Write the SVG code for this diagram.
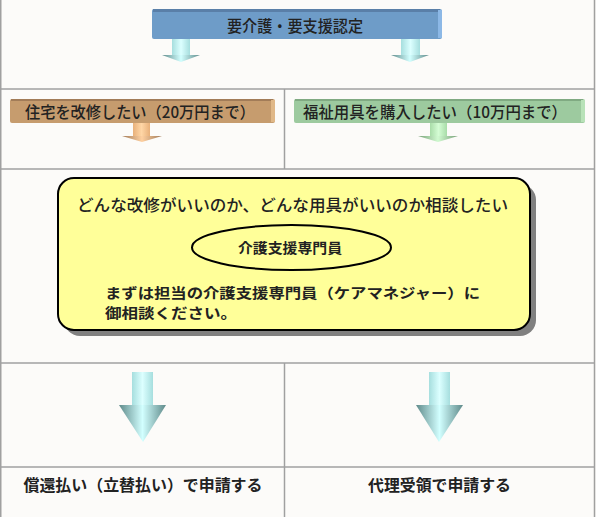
<svg xmlns="http://www.w3.org/2000/svg" width="596" height="517" viewBox="0 0 596 517">
<defs>
<style>
.grid{stroke:#a0a0a0;stroke-width:1.5;fill:none}
.t{font-family:"Noto Sans CJK JP","Noto Sans",sans-serif;fill:#222}
.m{font-weight:500}
.b{font-weight:700}
</style>
<linearGradient id="stemC" x1="0" y1="0" x2="1" y2="0">
<stop offset="0" stop-color="#a6dede"/><stop offset="0.5" stop-color="#dcffff"/><stop offset="1" stop-color="#a6dede"/>
</linearGradient>
<linearGradient id="headC" x1="0" y1="0" x2="1" y2="0">
<stop offset="0" stop-color="#5f8a8a"/><stop offset="0.5" stop-color="#d2ffff"/><stop offset="1" stop-color="#5f8a8a"/>
</linearGradient>
<linearGradient id="stemO" x1="0" y1="0" x2="1" y2="0">
<stop offset="0" stop-color="#e8b07a"/><stop offset="0.5" stop-color="#ffd6a6"/><stop offset="1" stop-color="#e8b07a"/>
</linearGradient>
<linearGradient id="headO" x1="0" y1="0" x2="1" y2="0">
<stop offset="0" stop-color="#a07a58"/><stop offset="0.5" stop-color="#ffd0a0"/><stop offset="1" stop-color="#a07a58"/>
</linearGradient>
<linearGradient id="stemG" x1="0" y1="0" x2="1" y2="0">
<stop offset="0" stop-color="#a8dca8"/><stop offset="0.5" stop-color="#d4fcd4"/><stop offset="1" stop-color="#a8dca8"/>
</linearGradient>
<linearGradient id="headG" x1="0" y1="0" x2="1" y2="0">
<stop offset="0" stop-color="#78a078"/><stop offset="0.5" stop-color="#d0fad0"/><stop offset="1" stop-color="#78a078"/>
</linearGradient>
</defs>
<rect width="596" height="517" fill="#fcfbf9"/>
<g id="grid">
<line class="grid" x1="0.75" y1="0" x2="0.75" y2="517"/>
<line class="grid" x1="594.5" y1="0" x2="594.5" y2="517"/>
<line class="grid" x1="0" y1="89" x2="595" y2="89"/>
<line class="grid" x1="0" y1="169" x2="595" y2="169"/>
<line class="grid" x1="0" y1="363" x2="595" y2="363"/>
<line class="grid" x1="0" y1="467" x2="595" y2="467"/>
<line class="grid" x1="284.5" y1="89" x2="284.5" y2="169"/>
<line class="grid" x1="284.5" y1="363" x2="284.5" y2="517"/>
</g>
<g id="connectors">
<rect x="172" y="39" width="18" height="16" fill="url(#stemC)"/>
<polygon points="162,55 200,55 181,62" fill="url(#headC)"/>
<rect x="401" y="39" width="19" height="16" fill="url(#stemC)"/>
<polygon points="391,55 429,55 410,62" fill="url(#headC)"/>
<rect x="133" y="123" width="17" height="13" fill="url(#stemO)"/>
<polygon points="122,136 162,136 142,142" fill="url(#headO)"/>
<rect x="430" y="123" width="17" height="13" fill="url(#stemG)"/>
<polygon points="418,136 458,136 438,142" fill="url(#headG)"/>
<rect x="132" y="372" width="21" height="33" fill="url(#stemC)"/>
<polygon points="119,405 166,405 143,442" fill="url(#headC)"/>
<rect x="429" y="372" width="21" height="33" fill="url(#stemC)"/>
<polygon points="416,405 463,405 439,442" fill="url(#headC)"/>
</g>
<g id="node-nintei">
<rect x="152" y="9" width="290" height="30" rx="2" fill="#6e9cc8"/>
<rect x="153" y="9" width="287" height="3" fill="#5a7fa8"/>
<rect x="438" y="10" width="4" height="28" fill="#8cb8e6"/>
<text class="t m" x="295" y="32" font-size="16" text-anchor="middle" textLength="136" lengthAdjust="spacingAndGlyphs">要介護・要支援認定</text>
</g>
<g id="node-jutaku">
<rect x="10" y="99" width="265" height="24" rx="2" fill="#c69c6e"/>
<rect x="11" y="99" width="262" height="2" fill="#a27c58"/>
<rect x="271" y="100" width="4" height="22" fill="#e0b888"/>
<text class="t m" x="25" y="118" font-size="16" textLength="230" lengthAdjust="spacingAndGlyphs">住宅を改修したい（20万円まで）</text>
</g>
<g id="node-fukushi">
<rect x="294" y="99" width="291" height="24" rx="2" fill="#9dca9f"/>
<rect x="295" y="99" width="288" height="2" fill="#80aa82"/>
<rect x="581" y="100" width="4" height="22" fill="#b8e2b8"/>
<text class="t m" x="303" y="118" font-size="16" textLength="264" lengthAdjust="spacingAndGlyphs">福祉用具を購入したい（10万円まで）</text>
</g>
<g id="node-soudan">
<rect x="64" y="184" width="472" height="152" rx="16" fill="#808080"/>
<rect x="58" y="178" width="472" height="152" rx="16" fill="#ffff99" stroke="#000" stroke-width="2"/>
<text class="t m" x="77" y="211" font-size="16" textLength="431" lengthAdjust="spacingAndGlyphs">どんな改修がいいのか、どんな用具がいいのか相談したい</text>
<text class="t b" x="105" y="297.5" font-size="14" textLength="375" lengthAdjust="spacingAndGlyphs">まずは担当の介護支援専門員（ケアマネジャー）に</text>
<text class="t b" x="105" y="318" font-size="14" textLength="132" lengthAdjust="spacingAndGlyphs">御相談ください。</text>
</g>
<g id="node-senmonin">
<ellipse cx="291.5" cy="247.5" rx="99.5" ry="22.5" fill="#ffff99" stroke="#000" stroke-width="2"/>
<text class="t b" x="290" y="253" font-size="14" text-anchor="middle" textLength="104" lengthAdjust="spacingAndGlyphs">介護支援専門員</text>
</g>
<g id="node-shokan">
<text class="t b" x="143" y="491" font-size="16" text-anchor="middle" textLength="239" lengthAdjust="spacingAndGlyphs">償還払い（立替払い）で申請する</text>
</g>
<g id="node-dairi">
<text class="t b" x="439.5" y="491" font-size="16" text-anchor="middle" textLength="143" lengthAdjust="spacingAndGlyphs">代理受領で申請する</text>
</g>
</svg>
